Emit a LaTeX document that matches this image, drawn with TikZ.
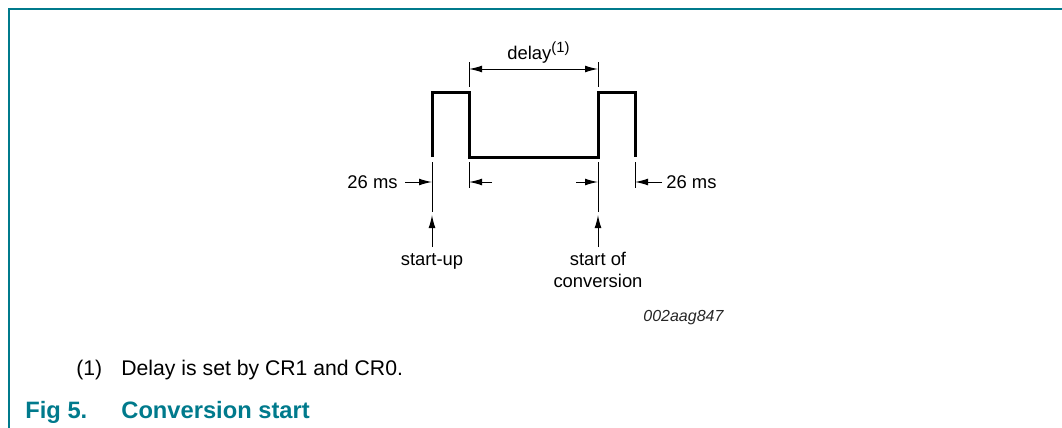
\documentclass[tikz,border=0pt]{standalone}
\usepackage{fontspec}
\setmainfont{Liberation Sans}
\usetikzlibrary{arrows.meta}
\definecolor{nxpteal}{RGB}{0,122,140}

\begin{document}
\begin{tikzpicture}[x=0.5pt, y=-0.5pt,
    signal/.style={line width=1.5pt, line join=miter},
    guide/.style={line width=0.5pt},
    dimarrow/.style={line width=0.5pt, -{Latex[length=6.5pt,width=3.4pt]}},
    lbl/.style={font=\fontsize{9.2}{10.8}\selectfont, inner sep=0pt, align=center}]

    % Page frame
    \useasboundingbox (0,0) rectangle (1062,428);
    \draw[nxpteal, line width=1pt] (8.5,428) -- (8.5,8.5) -- (1062,8.5);

    % Edge positions and levels
    \def\xa{432}
    \def\xb{469}
    \def\xc{598}
    \def\xd{635}
    \def\yhi{92}
    \def\ylo{157}
    \def\ydim{182}

    % Waveform
    \draw[signal] (\xa,\ylo) -- (\xa,\yhi) -- (\xb,\yhi) -- (\xb,\ylo)
        -- (\xc,\ylo) -- (\xc,\yhi) -- (\xd,\yhi) -- (\xd,\ylo);

    % Extension lines
    \draw[guide] (\xa,162) -- (\xa,212);
    \draw[guide] (\xb,162) -- (\xb,188);
    \draw[guide] (\xc,162) -- (\xc,212);
    \draw[guide] (\xd,162) -- (\xd,188);
    \draw[guide] (\xb,62) -- (\xb,87);
    \draw[guide] (\xc,62) -- (\xc,87);

    % Delay dimension
    \coordinate (dlyL) at (\xb,69);
    \coordinate (dlyR) at (\xc,69);
    \draw[dimarrow, {Latex[length=6.5pt,width=3.4pt]}-{Latex[length=6.5pt,width=3.4pt]}] (dlyL) -- (dlyR);
    \node[lbl, anchor=base west] (delay) at (507,59)
        {delay\raisebox{0.35em}{\fontsize{7.4}{8}\selectfont(1)}};

    % 26 ms dimensions
    \node[lbl, anchor=base east] (msL) at (398,188) {26 ms};
    \node[lbl, anchor=base west] (msR) at (666,188) {26 ms};
    \coordinate (aL) at (405,\ydim);
    \coordinate (aLtip) at (\xa,\ydim);
    \coordinate (bL) at (492,\ydim);
    \coordinate (bLtip) at (\xb,\ydim);
    \coordinate (cL) at (576,\ydim);
    \coordinate (cLtip) at (\xc,\ydim);
    \coordinate (dL) at (662,\ydim);
    \coordinate (dLtip) at (\xd,\ydim);
    \draw[dimarrow] (aL) -- (aLtip);
    \draw[dimarrow] (bL) -- (bLtip);
    \draw[dimarrow] (cL) -- (cLtip);
    \draw[dimarrow] (dL) -- (dLtip);

    % Event markers
    \coordinate (suTail) at (\xa,247);
    \coordinate (suTip) at (\xa,215);
    \coordinate (scTail) at (\xc,247);
    \coordinate (scTip) at (\xc,215);
    \draw[dimarrow] (suTail) -- (suTip);
    \draw[dimarrow] (scTail) -- (scTip);
    \node[lbl, anchor=base] (startup) at (\xa,265) {start-up};
    \node[lbl, anchor=base] (startconv) at (\xc,287) {start of\\conversion};

    % Drawing code
    \node[font=\fontsize{8}{9}\selectfont\itshape, inner sep=0pt, anchor=base west, text=black!85]
        (code) at (643,321) {002aag847};

    % Note and caption
    \node[font=\fontsize{10.6}{12}\selectfont, inner sep=0pt, anchor=base west] (notenum) at (76,375) {(1)};
    \node[font=\fontsize{10.6}{12}\selectfont, inner sep=0pt, anchor=base west] (note) at (121,375) {Delay is set by CR1 and CR0.};
    \node[font=\fontsize{11.85}{14}\selectfont\bfseries, text=nxpteal, inner sep=0pt, anchor=base west] (fignum) at (25,418) {Fig 5.};
    \node[font=\fontsize{11.85}{14}\selectfont\bfseries, text=nxpteal, inner sep=0pt, anchor=base west] (figtitle) at (121,418) {Conversion start};

\end{tikzpicture}
\end{document}
